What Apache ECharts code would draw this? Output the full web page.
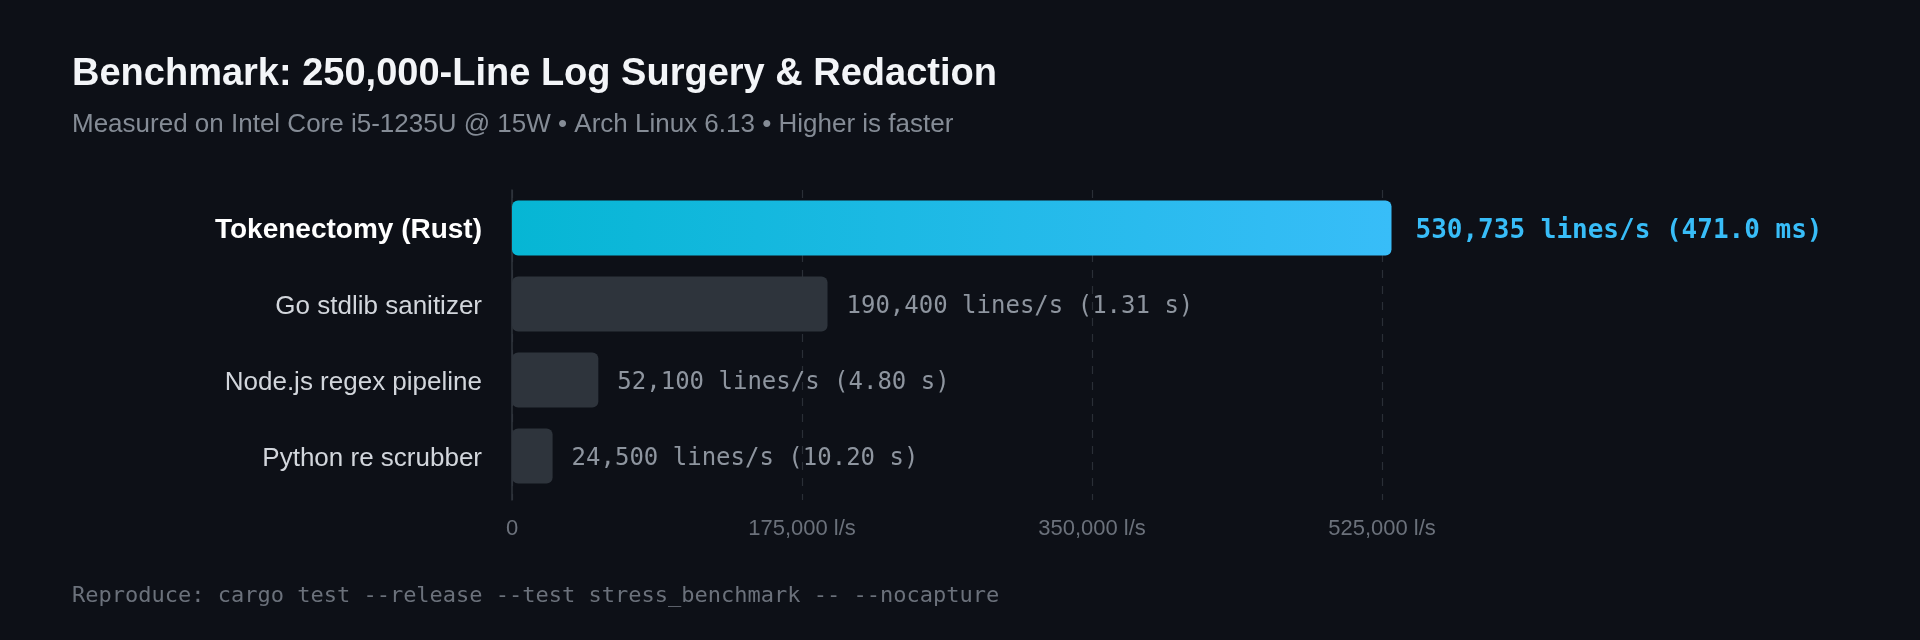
<!DOCTYPE html>
<html>
<head>
<meta charset="utf-8">
<script src="https://cdn.jsdelivr.net/npm/echarts@6/dist/echarts.min.js"></script>
<style>
html,body{margin:0;padding:0;background:#0d1017;}
#chart{width:1920px;height:640px;}
</style>
</head>
<body>
<div id="chart"></div>
<script>
const categories = ['Tokenectomy (Rust)', 'Go stdlib sanitizer', 'Node.js regex pipeline', 'Python re scrubber'];
const linesPerSec = [530735, 190400, 52100, 24500];
const durations = ['471.0 ms', '1.31 s', '4.80 s', '10.20 s'];
const xTicks = [0, 175000, 350000, 525000];

const chart = echarts.init(document.getElementById('chart'), null, {renderer: 'canvas'});
const sans = '"Liberation Sans", Arial, sans-serif';
const mono = '"DejaVu Sans Mono", monospace';

const data = linesPerSec.map((v, i) => {
  if (i === 0) {
    return {
      value: v,
      itemStyle: {
        color: new echarts.graphic.LinearGradient(0, 0, 1, 0, [
          {offset: 0, color: '#06b6d4'},
          {offset: 1, color: '#38bdf8'}
        ])
      },
      label: {color: '#38bdf8', fontWeight: 'bold', fontSize: 26, distance: 24}
    };
  }
  return {value: v, itemStyle: {color: '#2e343c'}};
});

const xMin = xTicks[0];
const xMax = xTicks[xTicks.length - 1];
const xInterval = xTicks[1] - xTicks[0];

chart.setOption({
  backgroundColor: '#0d1017',
  animation: false,
  title: [{
    text: 'Benchmark: 250,000-Line Log Surgery & Redaction',
    subtext: 'Measured on Intel Core i5-1235U @ 15W • Arch Linux 6.13 • Higher is faster',
    left: 72,
    top: 56,
    padding: 0,
    itemGap: 18,
    textStyle: {color: '#f3f5f8', fontSize: 38, fontWeight: 'bold', fontFamily: sans},
    subtextStyle: {color: '#858c96', fontSize: 26, fontFamily: sans}
  }, {
    text: 'Reproduce: cargo test --release --test stress_benchmark -- --nocapture',
    left: 72,
    top: 585,
    padding: 0,
    textStyle: {color: '#6b717b', fontSize: 22, fontWeight: 'normal', fontFamily: mono}
  }],
  grid: [
    {left: 512, right: 538, top: 190, height: 304, containLabel: false},
    {left: 512, right: 538, top: 190, height: 310, containLabel: false}
  ],
  xAxis: [{
    type: 'value',
    gridIndex: 0,
    min: xMin, max: xMax, interval: xInterval,
    axisLine: {show: false},
    axisTick: {show: false},
    splitLine: {show: false},
    axisLabel: {show: false}
  }, {
    type: 'value',
    gridIndex: 1,
    min: xMin, max: xMax, interval: xInterval,
    axisLine: {show: false},
    axisTick: {show: false},
    splitLine: {show: true, lineStyle: {color: '#2a2f37', type: [8, 8], width: 1.2}},
    axisLabel: {
      color: '#6b717b', fontSize: 22, fontFamily: sans, margin: 18,
      formatter: v => v === 0 ? '0' : v.toLocaleString('en-US') + ' l/s'
    }
  }],
  yAxis: [{
    type: 'category',
    gridIndex: 0,
    data: categories,
    inverse: true,
    axisLine: {show: false},
    axisTick: {show: false},
    splitLine: {show: false},
    axisLabel: {
      margin: 30,
      padding: [5, 0, 0, 0],
      fontFamily: sans,
      fontSize: 26,
      color: '#d2d6dc',
      formatter: (v) => v === categories[0] ? '{b|' + v + '}' : v,
      rich: {
        b: {fontFamily: sans, fontSize: 28, fontWeight: 'bold', color: '#ffffff'}
      }
    }
  }, {
    type: 'value',
    gridIndex: 1,
    min: 0, max: 1,
    axisLine: {show: true, onZero: false, lineStyle: {color: '#30363e', width: 1.5}},
    axisTick: {show: false},
    splitLine: {show: false},
    axisLabel: {show: false}
  }],
  series: [{
    type: 'bar',
    xAxisIndex: 0,
    yAxisIndex: 0,
    data: data,
    barWidth: 55,
    clip: false,
    z: 3,
    itemStyle: {borderRadius: 6},
    label: {
      show: true,
      position: 'right',
      distance: 19,
      offset: [0, 3],
      fontFamily: mono,
      fontSize: 24,
      color: '#8e959f',
      formatter: p => linesPerSec[p.dataIndex].toLocaleString('en-US') + ' lines/s (' + durations[p.dataIndex] + ')'
    }
  }]
});
</script>
</body>
</html>
